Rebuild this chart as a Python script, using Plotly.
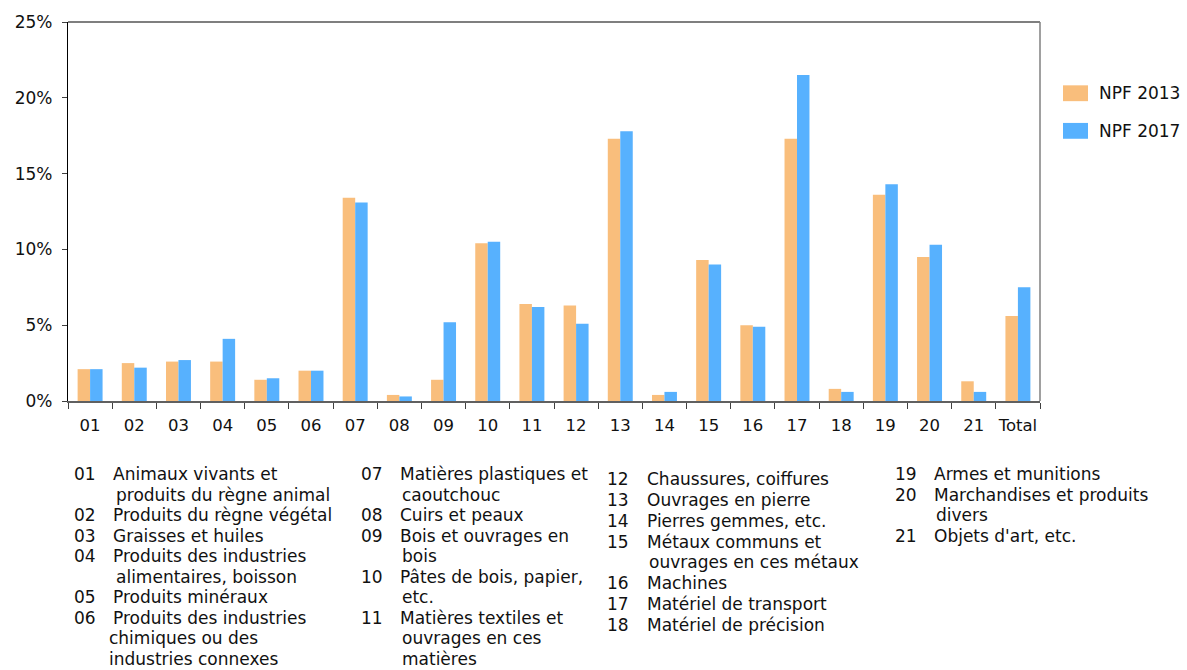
import plotly.graph_objects as go

categories = ["01", "02", "03", "04", "05", "06", "07", "08", "09", "10", "11",
              "12", "13", "14", "15", "16", "17", "18", "19", "20", "21", "Total"]
npf_2013 = [2.1, 2.5, 2.6, 2.6, 1.4, 2.0, 13.4, 0.4, 1.4, 10.4, 6.4,
            6.3, 17.3, 0.4, 9.3, 5.0, 17.3, 0.8, 13.6, 9.5, 1.3, 5.6]
npf_2017 = [2.1, 2.2, 2.7, 4.1, 1.5, 2.0, 13.1, 0.3, 5.2, 10.5, 6.2,
            5.1, 17.8, 0.6, 9.0, 4.9, 21.5, 0.6, 14.3, 10.3, 0.6, 7.5]
series_names = ["NPF 2013", "NPF 2017"]
y_ticks = [0, 5, 10, 15, 20, 25]

# footnote columns: (code, text lines)
notes_col1 = [("01", ["Animaux vivants et", " produits du règne animal"]),
              ("02", ["Produits du règne végétal"]),
              ("03", ["Graisses et huiles"]),
              ("04", ["Produits des industries", " alimentaires, boisson"]),
              ("05", ["Produits minéraux"]),
              ("06", ["Produits des industries", "chimiques ou des", "industries connexes"])]
notes_col2 = [("07", ["Matières plastiques et", " caoutchouc"]),
              ("08", ["Cuirs et peaux"]),
              ("09", ["Bois et ouvrages en", " bois"]),
              ("10", ["Pâtes de bois, papier,", " etc."]),
              ("11", ["Matières textiles et", " ouvrages en ces", " matières"])]
notes_col3 = [("12", ["Chaussures, coiffures"]),
              ("13", ["Ouvrages en pierre"]),
              ("14", ["Pierres gemmes, etc."]),
              ("15", ["Métaux communs et", " ouvrages en ces métaux"]),
              ("16", ["Machines"]),
              ("17", ["Matériel de transport"]),
              ("18", ["Matériel de précision"])]
notes_col4 = [("19", ["Armes et munitions"]),
              ("20", ["Marchandises et produits", " divers"]),
              ("21", ["Objets d'art, etc."])]

COL_2013 = "#F9BE7C"
COL_2017 = "#57B1FE"
FONT = "DejaVu Sans"
TXT = "#111111"

W, H = 1187, 670
ML, MR, MT, MB = 68, 147, 18, 269
PW, PH = W - ML - MR, H - MT - MB


def px(x):
    return (x - ML) / PW


def py(y):
    return (H - MB - y) / PH


fig = go.Figure()
fig.add_trace(go.Bar(x=categories, y=npf_2013, name=series_names[0],
                     marker=dict(color=COL_2013, line=dict(width=0))))
fig.add_trace(go.Bar(x=categories, y=npf_2017, name=series_names[1],
                     marker=dict(color=COL_2017, line=dict(width=0))))

shapes = []
annotations = []

# frame: top black, right grey
shapes.append(dict(type="line", xref="paper", yref="paper", x0=0, x1=1, y0=1, y1=1,
                   line=dict(color="black", width=1.2)))
shapes.append(dict(type="line", xref="paper", yref="paper", x0=1, x1=1, y0=0, y1=1,
                   line=dict(color="#808080", width=1.5)))

# custom legend
for i, (name, col) in enumerate(zip(series_names, [COL_2013, COL_2017])):
    yc = 90 + i * 38
    shapes.append(dict(type="rect", xref="paper", yref="paper",
                       x0=px(1063), x1=px(1088), y0=py(yc - 8), y1=py(yc + 8),
                       fillcolor=col, line=dict(width=0)))
    annotations.append(dict(text=name, xref="paper", yref="paper", x=px(1097), y=py(yc),
                            xanchor="left", yanchor="middle", showarrow=False,
                            font=dict(family=FONT, size=17, color=TXT)))


def add_column(notes, x_num, x_txt, y0, step, cont_shift):
    y = y0
    for code, lines in notes:
        annotations.append(dict(text=code, xref="paper", yref="paper", x=px(x_num), y=py(y),
                                xanchor="left", yanchor="middle", showarrow=False,
                                font=dict(family=FONT, size=17, color=TXT)))
        for j, ln in enumerate(lines):
            xo = x_txt
            if j > 0:
                xo = x_txt + (cont_shift if ln.startswith(" ") else -4)
            annotations.append(dict(text=ln.strip(), xref="paper", yref="paper", x=px(xo), y=py(y),
                                    xanchor="left", yanchor="middle", showarrow=False,
                                    font=dict(family=FONT, size=17, color=TXT)))
            y += step


add_column(notes_col1, 72, 111, 475, 20.7, 3)
add_column(notes_col2, 359, 398, 475, 20.7, 2)
add_column(notes_col3, 605, 645, 480, 21.0, 2)
add_column(notes_col4, 893, 932, 475, 20.7, 2)

fig.update_layout(
    width=W, height=H,
    margin=dict(l=ML, r=MR, t=MT, b=MB, pad=0),
    paper_bgcolor="white", plot_bgcolor="white",
    barmode="group", bargap=0.435, bargroupgap=0,
    showlegend=False,
    font=dict(family=FONT, size=16, color=TXT),
    shapes=shapes, annotations=annotations,
)
fig.update_xaxes(type="category", showline=True, linecolor="#606060", linewidth=1.5,
                 ticks="outside", tickson="boundaries", ticklen=6, tickcolor="#404040",
                 tickangle=0, showgrid=False, ticklabelstandoff=8,
                 tickfont=dict(family=FONT, size=16.5, color=TXT))
fig.update_yaxes(range=[0, 25], tickvals=y_ticks, ticktext=[f"{v}%" for v in y_ticks],
                 showline=True, linecolor="black", linewidth=1.2,
                 ticks="outside", ticklen=5, tickcolor="#404040",
                 showgrid=False, zeroline=False, ticklabelstandoff=6,
                 tickfont=dict(family=FONT, size=17, color=TXT))

fig.write_html("out.html")
